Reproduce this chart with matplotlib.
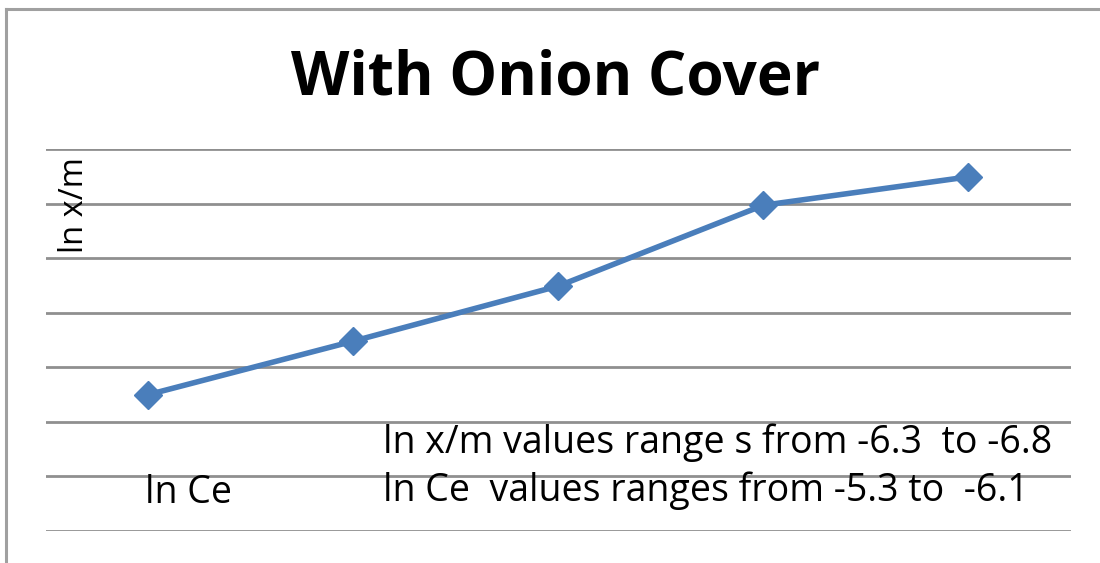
import numpy as np
import matplotlib
matplotlib.use('Agg')
import matplotlib.pyplot as plt
from matplotlib.lines import Line2D

# Data (axis units = gridline steps, axis labels are hidden)
categories = [1, 2, 3, 4, 5]
ln_xm = [2.5, 3.48, 4.49, 5.97, 6.49]
grid_ticks = [0, 1, 2, 3, 4, 5, 6, 7]

title = 'With Onion Cover'
ylabel = 'ln x/m'
xlabel = 'ln Ce'
note1 = 'ln x/m values range s from -6.3  to -6.8'
note2 = 'ln Ce  values ranges from -5.3 to  -6.1'

plt.rcParams['font.family'] = ['Open Sans', 'DejaVu Sans']

fig = plt.figure(figsize=(11, 5.63), dpi=100)
ax = fig.add_axes([0.0418, 0.0568, 0.9318, 0.6785])

ax.plot(categories, ln_xm, color='#4a7ebb', lw=4, marker='D',
        markersize=14, markerfacecolor='#4a7ebb', markeredgecolor='#4a7ebb',
        zorder=3, solid_joinstyle='round')

ax.set_xlim(0.5, 5.5)
ax.set_ylim(0, 7)
ax.set_yticks(grid_ticks)
ax.set_xticks([])
ax.tick_params(left=False, labelleft=False)
ax.grid(axis='y', color='#8f8f8f', lw=2)
ax.set_axisbelow(True)
for s in ax.spines.values():
    s.set_visible(False)

# texts
fig.text(0.505, 0.860, title, ha='center', va='center', fontsize=43.5,
         fontweight='bold', color='black')
fig.text(0.0673, 0.636, ylabel, rotation=90, ha='center', va='center',
         fontsize=23.5, color='black')
fig.text(0.171, 0.124, xlabel, ha='center', va='center', fontsize=27,
         color='black')
fig.text(0.348, 0.213, note1, ha='left', va='center', fontsize=27,
         color='black')
fig.text(0.348, 0.129, note2, ha='left', va='center', fontsize=27,
         color='black')

# outer chart border (left and top only visible)
fig.add_artist(Line2D([0.0055, 0.0055], [0, 0.984], color='#a0a0a0', lw=2.2))
fig.add_artist(Line2D([0.0055, 1.0], [0.984, 0.984], color='#a0a0a0', lw=2.2))

fig.savefig('out.png', dpi=100, facecolor='white')
